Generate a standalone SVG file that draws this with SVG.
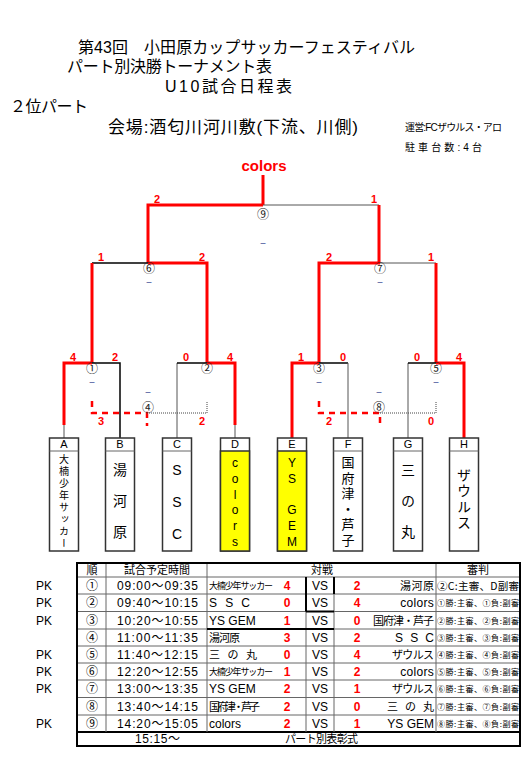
<svg xmlns="http://www.w3.org/2000/svg" width="530" height="764" viewBox="0 0 530 764">
<style>
.jp{font-family:"Noto Sans CJK JP","Liberation Sans",sans-serif;fill:#000}
.hd{font-family:"Liberation Sans","Noto Sans CJK JP",sans-serif;fill:#000}
.la{font-family:"Liberation Sans","Noto Sans CJK JP",sans-serif;fill:#000}
.sc{font-family:"Liberation Sans",sans-serif;font-weight:bold;fill:#ff0000;font-size:11px;text-anchor:middle}
.red{stroke:#ff0000;stroke-width:3;fill:none}
.blk{stroke:#000;stroke-width:1.5;fill:none}
.gry{stroke:#555;stroke-width:1;fill:none}
.rdash{stroke:#ff0000;stroke-width:2.5;stroke-dasharray:6 5;fill:none}
.dot{stroke:#444;stroke-width:1;stroke-dasharray:1 1;fill:none}
.cn{font-family:"Noto Sans CJK JP",sans-serif;font-size:12px;text-anchor:middle;fill:#222}
.ds{font-family:"Liberation Sans",sans-serif;font-size:9px;text-anchor:middle;fill:#2a3a8a}
.box{fill:#fff;stroke:#333;stroke-width:1.5}
.ybox{fill:#ffff00;stroke:#333;stroke-width:1.5}
.bl{font-family:"Liberation Sans",sans-serif;font-size:11px;text-anchor:middle;fill:#000}
.vt{font-family:"Noto Sans CJK JP","Liberation Sans",sans-serif;fill:#000;writing-mode:vertical-rl;text-orientation:upright}
.vl{font-family:"Liberation Sans","Noto Sans CJK JP",sans-serif;fill:#000;writing-mode:vertical-rl;text-orientation:upright}
.tl{stroke:#666;stroke-width:1;fill:none}
.tk{stroke:#000;stroke-width:2;fill:none}
.t11{font-size:11px}
.t12{font-size:12px}
.rs{font-family:"Liberation Sans",sans-serif;font-weight:bold;fill:#ff0000;font-size:12px;text-anchor:middle}
</style>

<g id="header">
<text class="hd" x="78" y="53" font-size="16" textLength="337">第43回　小田原カップサッカーフェスティバル</text>
<text class="hd" x="67" y="72" font-size="16" textLength="205">パート別決勝トーナメント表</text>
<text class="hd" x="165" y="92" font-size="16" textLength="127">U10試合日程表</text>
<text class="hd" x="10" y="112" font-size="16" textLength="78">２位パート</text>
<text class="hd" x="108" y="133" font-size="17" textLength="250">会場:酒匂川河川敷(下流、川側)</text>
<text class="hd" x="405" y="131" font-size="10" textLength="97">運営:FCザウルス・アロ</text>
<text class="hd" x="405" y="151" font-size="10" textLength="77">駐車台数:4台</text>
</g>

<g id="champion">
<text x="264" y="171" font-family="Liberation Sans,sans-serif" font-weight="bold" font-size="15" fill="#ff0000" text-anchor="middle">colors</text>
</g>

<g id="connectors">
<line class="red" x1="263" y1="175" x2="263" y2="205"/>
<line class="gry" x1="263" y1="205" x2="379" y2="205" stroke="#333"/>
<polyline class="red" points="148,263 148,205 263,205"/>
<line class="red" x1="379" y1="205" x2="379" y2="263"/>
<line class="blk" x1="92" y1="263" x2="148" y2="263"/>
<polyline class="red" points="148,263 207,263 207,363"/>
<line class="red" x1="92" y1="263" x2="92" y2="363"/>
<line class="gry" x1="380" y1="263" x2="436" y2="263"/>
<polyline class="red" points="319,363 319,263 380,263"/>
<line class="red" x1="436" y1="263" x2="436" y2="363"/>
<polyline class="red" points="64,425 64,363 92,363"/>
<polyline class="blk" points="92,363 120,363 120,438"/>
<line class="gry" x1="64" y1="425" x2="64" y2="438"/>
<polyline class="gry" points="177,438 177,363"/>
<line class="blk" x1="177" y1="363" x2="207" y2="363"/>
<polyline class="red" points="207,363 235,363 235,425"/>
<line class="gry" x1="235" y1="425" x2="235" y2="438"/>
<polyline class="red" points="292,438 292,363 319,363"/>
<line class="blk" x1="319" y1="363" x2="348" y2="363"/>
<line class="gry" x1="348" y1="363" x2="348" y2="438"/>
<line class="gry" x1="408" y1="363" x2="408" y2="438"/>
<line class="blk" x1="408" y1="363" x2="436" y2="363"/>
<polyline class="red" points="436,363 464,363 464,438"/>
<polyline class="rdash" points="92,401 92,413 147,413 147,426"/>
<polyline class="dot" points="147,413 207,413 207,402"/>
<polyline class="rdash" points="319,401 319,413 380,413 380,426"/>
<polyline class="dot" points="380,413 436,413 436,402"/>
</g>

<g id="scores">
<text class="sc" x="157" y="203">2</text>
<text class="sc" x="374" y="203">1</text>
<text class="sc" x="101" y="261">1</text>
<text class="sc" x="202" y="261">2</text>
<text class="sc" x="329" y="261">2</text>
<text class="sc" x="431" y="261">1</text>
<text class="sc" x="73" y="361">4</text>
<text class="sc" x="115" y="361">2</text>
<text class="sc" x="186" y="361">0</text>
<text class="sc" x="230" y="361">4</text>
<text class="sc" x="301" y="361">1</text>
<text class="sc" x="343" y="361">0</text>
<text class="sc" x="417" y="361">0</text>
<text class="sc" x="459" y="361">4</text>
<text class="sc" x="101" y="425">3</text>
<text class="sc" x="202" y="425">2</text>
<text class="sc" x="329" y="425">2</text>
<text class="sc" x="431" y="425">0</text>
</g>

<g id="match9"><text class="cn" x="263" y="219">⑨</text><text class="ds" x="263" y="246">–</text></g>
<g id="match6"><text class="cn" x="149" y="273">⑥</text><text class="ds" x="149" y="285">–</text></g>
<g id="match7"><text class="cn" x="380" y="273">⑦</text><text class="ds" x="380" y="285">–</text></g>
<g id="match1"><text class="cn" x="92" y="373">①</text><text class="ds" x="92" y="385">–</text></g>
<g id="match2"><text class="cn" x="207" y="373">②</text></g>
<g id="match3"><text class="cn" x="319" y="373">③</text><text class="ds" x="319" y="385">–</text></g>
<g id="match5"><text class="cn" x="436" y="373">⑤</text><text class="ds" x="436" y="385">–</text></g>
<g id="match4"><text class="ds" x="148" y="395" font-size="8">–</text><text class="cn" x="148" y="412">④</text></g>
<g id="match8"><text class="ds" x="379" y="395" font-size="8">–</text><text class="cn" x="379" y="412">⑧</text></g>

<g id="teamA">
<rect class="box" x="49.5" y="438" width="29" height="113"/><line class="tl" x1="49.5" y1="451" x2="78.5" y2="451" stroke="#333"/>
<text class="bl" x="64" y="448">A</text>
<text class="vt" x="64" y="454" font-size="10" letter-spacing="2">大楠少年サッカー</text>
</g>
<g id="teamB">
<rect class="box" x="105.5" y="438" width="29" height="113"/><line class="tl" x1="105.5" y1="451" x2="134.5" y2="451" stroke="#333"/>
<text class="bl" x="120" y="448">B</text>
<text class="vt" x="120" y="463" font-size="14" letter-spacing="17">湯河原</text>
</g>
<g id="teamC">
<rect class="box" x="162.5" y="438" width="29" height="113"/><line class="tl" x1="162.5" y1="451" x2="191.5" y2="451" stroke="#333"/>
<text class="bl" x="177" y="448">C</text>
<text class="vl" x="177" y="462" font-size="14" letter-spacing="16">SSC</text>
</g>
<g id="teamD">
<rect class="box" x="220.5" y="438" width="29" height="113"/><rect class="ybox" x="220.5" y="451" width="29" height="100"/>
<text class="bl" x="235" y="448">D</text>
<text class="vl" x="235" y="456" font-size="12" letter-spacing="1.8">colors</text>
</g>
<g id="teamE">
<rect class="box" x="277.5" y="438" width="29" height="113"/><rect class="ybox" x="277.5" y="451" width="29" height="100"/>
<text class="bl" x="292" y="448">E</text>
<text class="vl" x="292" y="456" font-size="12" letter-spacing="1.8">YS GEM</text>
</g>
<g id="teamF">
<rect class="box" x="333.5" y="438" width="29" height="113"/><line class="tl" x1="333.5" y1="451" x2="362.5" y2="451" stroke="#333"/>
<text class="bl" x="348" y="448">F</text>
<text class="vt" x="348" y="455.5" font-size="13" letter-spacing="2.6">国府津・芦子</text>
</g>
<g id="teamG">
<rect class="box" x="393.5" y="438" width="29" height="113"/><line class="tl" x1="393.5" y1="451" x2="422.5" y2="451" stroke="#333"/>
<text class="bl" x="408" y="448">G</text>
<text class="vt" x="408" y="463" font-size="14" letter-spacing="17">三の丸</text>
</g>
<g id="teamH">
<rect class="box" x="449.5" y="438" width="29" height="113"/><line class="tl" x1="449.5" y1="451" x2="478.5" y2="451" stroke="#333"/>
<text class="bl" x="464" y="448">H</text>
<text class="vt" x="464" y="468" font-size="14" letter-spacing="2">ザウルス</text>
</g>

<g id="table">
<line class="tl" x1="77" y1="577" x2="520" y2="577"/>
<line class="tl" x1="77" y1="594" x2="520" y2="594"/>
<line class="tl" x1="77" y1="611.5" x2="520" y2="611.5"/>
<line class="tl" x1="77" y1="629" x2="520" y2="629"/>
<line class="tl" x1="77" y1="646" x2="520" y2="646"/>
<line class="tl" x1="77" y1="663" x2="520" y2="663"/>
<line class="tl" x1="77" y1="680" x2="520" y2="680"/>
<line class="tl" x1="77" y1="697.5" x2="520" y2="697.5"/>
<line class="tl" x1="77" y1="715" x2="520" y2="715"/>
<line class="tk" x1="77" y1="732" x2="520" y2="732" stroke-width="1.5"/>
<line class="tl" x1="106" y1="563" x2="106" y2="732"/>
<line class="tl" x1="207" y1="563" x2="207" y2="732"/>
<line class="tl" x1="306" y1="577" x2="306" y2="732"/>
<line class="tl" x1="334" y1="577" x2="334" y2="732"/>
<line class="tl" x1="436" y1="563" x2="436" y2="732"/>
<line class="tk" x1="306" y1="577" x2="306" y2="611.5"/>
<line class="tk" x1="334" y1="577" x2="334" y2="594"/>
<line class="tk" x1="306" y1="611.5" x2="334" y2="611.5"/>
<line class="tk" x1="207" y1="629" x2="334" y2="629"/>
<rect class="tk" x="77" y="563" width="443" height="183" stroke-width="2.5"/>

<text class="jp t11" x="92" y="574" text-anchor="middle">順</text>
<text class="jp t11" x="157" y="574" text-anchor="middle">試合予定時間</text>
<text class="jp t11" x="322" y="574" text-anchor="middle">対戦</text>
<text class="jp t11" x="478" y="574" text-anchor="middle">審判</text>

<g class="la t12">
<text x="36" y="590">PK</text>
<text x="36" y="607">PK</text>
<text x="36" y="624.5">PK</text>
<text x="36" y="659">PK</text>
<text x="36" y="676">PK</text>
<text x="36" y="693">PK</text>
<text x="36" y="728">PK</text>
</g>

<g class="jp t12" text-anchor="middle">
<text x="92" y="590">①</text>
<text x="92" y="607">②</text>
<text x="92" y="624.5">③</text>
<text x="92" y="642">④</text>
<text x="92" y="659">⑤</text>
<text x="92" y="676">⑥</text>
<text x="92" y="693">⑦</text>
<text x="92" y="710.5">⑧</text>
<text x="92" y="728">⑨</text>
</g>

<g class="la t12">
<text x="117" y="590" textLength="81">09:00～09:35</text>
<text x="117" y="607" textLength="81">09:40～10:15</text>
<text x="117" y="624.5" textLength="81">10:20～10:55</text>
<text x="117" y="642" textLength="81">11:00～11:35</text>
<text x="117" y="659" textLength="81">11:40～12:15</text>
<text x="117" y="676" textLength="81">12:20～12:55</text>
<text x="117" y="693" textLength="81">13:00～13:35</text>
<text x="117" y="710.5" textLength="81">13:40～14:15</text>
<text x="117" y="728" textLength="81">14:20～15:05</text>
</g>

<text class="jp" x="209" y="589" font-size="9" textLength="64">大楠少年サッカー</text>
<text class="la t12" x="209" y="607" textLength="41">S　S　C</text>
<text class="la t12" x="209" y="624.5">YS GEM</text>
<text class="jp t11" x="209" y="642" textLength="31">湯河原</text>
<text class="jp t11" x="209" y="659" textLength="48">三　の　丸</text>
<text class="jp" x="209" y="675" font-size="9" textLength="64">大楠少年サッカー</text>
<text class="la t12" x="209" y="693">YS GEM</text>
<text class="jp t11" x="209" y="710.5" textLength="51">国府津・芦子</text>
<text class="la t12" x="209" y="728">colors</text>

<g class="rs">
<text x="287" y="590">4</text><text x="357" y="590">2</text>
<text x="287" y="607">0</text><text x="357" y="607">4</text>
<text x="287" y="624.5">1</text><text x="357" y="624.5">0</text>
<text x="287" y="642">3</text><text x="357" y="642">2</text>
<text x="287" y="659">0</text><text x="357" y="659">4</text>
<text x="287" y="676">1</text><text x="357" y="676">2</text>
<text x="287" y="693">2</text><text x="357" y="693">1</text>
<text x="287" y="710.5">2</text><text x="357" y="710.5">0</text>
<text x="287" y="728">2</text><text x="357" y="728">1</text>
</g>

<g class="la t12" text-anchor="middle">
<text x="320" y="590">VS</text>
<text x="320" y="607">VS</text>
<text x="320" y="624.5">VS</text>
<text x="320" y="642">VS</text>
<text x="320" y="659">VS</text>
<text x="320" y="676">VS</text>
<text x="320" y="693">VS</text>
<text x="320" y="710.5">VS</text>
<text x="320" y="728">VS</text>
</g>

<text class="jp t11" x="400" y="590" textLength="34">湯河原</text>
<text class="la t12" x="434" y="607" text-anchor="end" letter-spacing="0.3">colors</text>
<text class="jp t11" x="373" y="624.5" textLength="61">国府津・芦子</text>
<text class="la t12" x="395" y="642" textLength="39">S　S　C</text>
<text class="jp t11" x="392" y="659" textLength="42">ザウルス</text>
<text class="la t12" x="434" y="676" text-anchor="end" letter-spacing="0.3">colors</text>
<text class="jp t11" x="392" y="693" textLength="42">ザウルス</text>
<text class="jp t11" x="387" y="710.5" textLength="47">三　の　丸</text>
<text class="la t12" x="434" y="728" text-anchor="end">YS GEM</text>

<text class="jp" x="437" y="589.5" font-size="10.5" textLength="82">②C:主審、D副審</text>
<g class="jp" font-size="8">
<text x="437" y="606" textLength="82">①勝:主審、①負:副審</text>
<text x="437" y="623.5" textLength="82">②勝:主審、②負:副審</text>
<text x="437" y="641" textLength="82">③勝:主審、③負:副審</text>
<text x="437" y="658" textLength="82">④勝:主審、④負:副審</text>
<text x="437" y="675" textLength="82">⑤勝:主審、⑤負:副審</text>
<text x="437" y="692" textLength="82">⑥勝:主審、⑥負:副審</text>
<text x="437" y="709.5" textLength="82">⑦勝:主審、⑦負:副審</text>
<text x="437" y="727" textLength="82">⑧勝:主審、⑧負:副審</text>
</g>

<text class="la t12" x="135" y="743" textLength="45">15:15～</text>
<text class="jp t11" x="285" y="743" textLength="73">パート別表彰式</text>
</g>
</svg>
